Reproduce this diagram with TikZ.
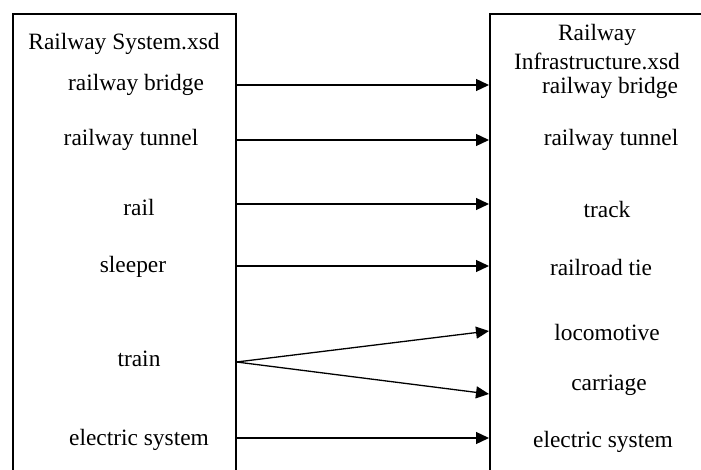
\documentclass[tikz,border=0pt]{standalone}
\usepackage{fontspec}
\setmainfont{Liberation Serif}
\usetikzlibrary{arrows.meta, positioning}

\begin{document}
\begin{tikzpicture}[
        x=0.5pt, y=-0.5pt,
        schema/.style={draw=black, line width=0.8pt, inner sep=0pt,
                       minimum width=#1, minimum height=245pt, anchor=north west},
        lbl/.style={font=\fontsize{11.7}{14.6}\selectfont, inner sep=0pt, align=center},
        arr/.style={-{Triangle[length=6.5pt, width=6pt]}, line width=0.65pt}
      ]
        \clip (0,0) rectangle (701,470);
        % the two schema boxes, open at the bottom
        \node[schema=111.5pt] (sys) at (12,13) {};
        \node[schema=115pt] (infra) at (489,13) {};

        % left schema
        \node[lbl] (sysTitle) at (124,44) {Railway System.xsd};
        \node[lbl] (sBridge) at (136,85) {railway bridge};
        \node[lbl] (sTunnel) at (131,140) {railway tunnel};
        \node[lbl] (sRail) at (139,207) {rail};
        \node[lbl] (sSleeper) at (133,267) {sleeper};
        \node[lbl] (sTrain) at (139,359) {train};
        \node[lbl] (sElectric) at (139,440) {electric system};

        % right schema
        \node[lbl] (infraTitle) at (597,47) {Railway\\Infrastructure.xsd};
        \node[lbl] (iBridge) at (610,88) {railway bridge};
        \node[lbl] (iTunnel) at (611,140) {railway tunnel};
        \node[lbl] (iTrack) at (607,209) {track};
        \node[lbl] (iTie) at (601,267) {railroad tie};
        \node[lbl] (iLoco) at (607,332) {locomotive};
        \node[lbl] (iCarriage) at (609,385) {carriage};
        \node[lbl] (iElectric) at (603,442) {electric system};

        % mappings
        \coordinate (trainOut) at (sys.east |- 0,362);
        \coordinate (locoIn) at (infra.west |- 0,331);
        \coordinate (carriageIn) at (infra.west |- 0,394);
        \draw[arr] (sys.east |- 0,85) -- (infra.west |- 0,85);
        \draw[arr] (sys.east |- sTunnel) -- (infra.west |- sTunnel);
        \draw[arr] (sys.east |- 0,204) -- (infra.west |- 0,204);
        \draw[arr] (sys.east |- 0,266) -- (infra.west |- 0,266);
        \draw[arr] (trainOut) -- (locoIn);
        \draw[arr] (trainOut) -- (carriageIn);
        \draw[arr] (sys.east |- 0,438) -- (infra.west |- 0,438);
      \end{tikzpicture}
\end{document}
